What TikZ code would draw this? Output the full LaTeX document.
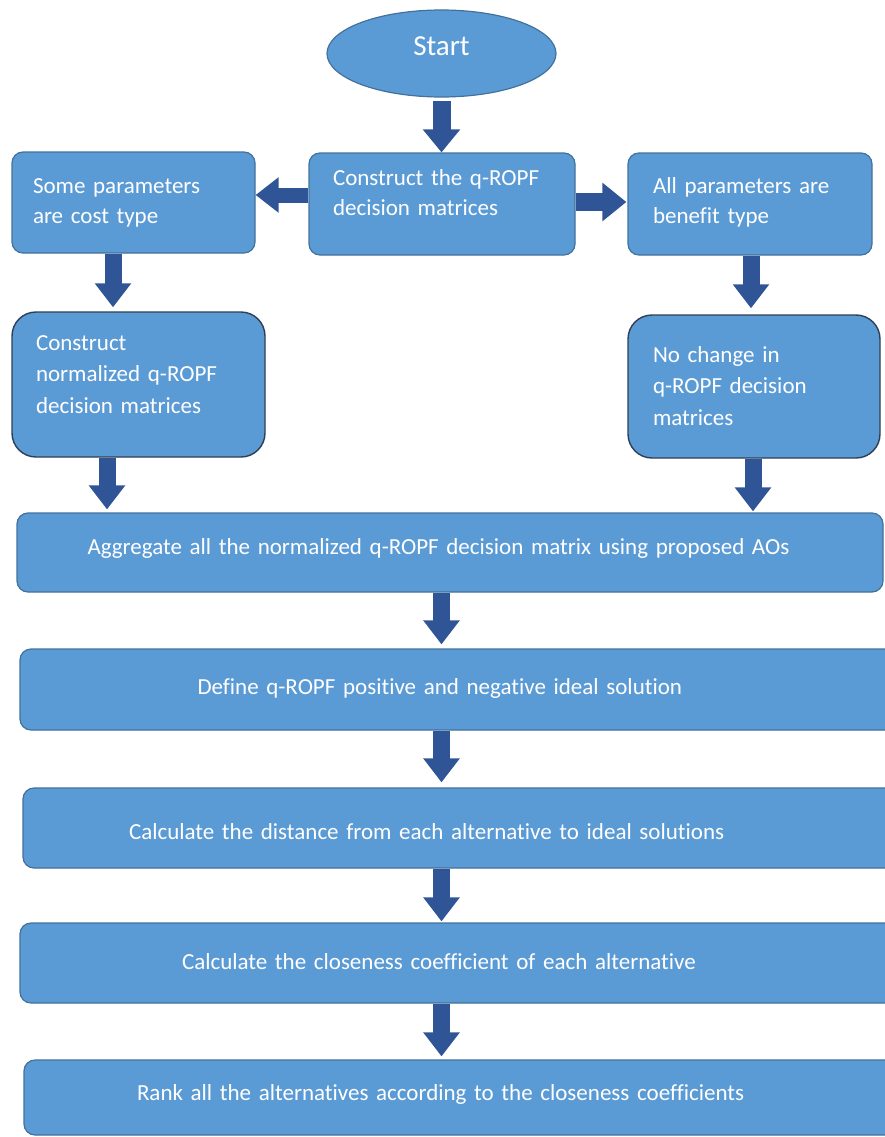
\documentclass[tikz,border=0pt]{standalone}
\usepackage{fontspec}
\setmainfont{Carlito}[Ligatures=CommonOff]
\usetikzlibrary{shapes.geometric,arrows.meta}
\definecolor{boxfill}{HTML}{5B9BD5}
\definecolor{boxedge}{HTML}{41719C}
\definecolor{darkedge}{HTML}{2E3F55}
\definecolor{arrowblue}{HTML}{2F5597}
\tikzset{
  box/.style={draw=boxedge, line width=1.2pt, fill=boxfill, rounded corners=11pt,
    text=white, font=\fontsize{23}{30}\selectfont, align=left, inner ysep=0pt},
  bigbox/.style={box, draw=darkedge, line width=1.4pt, rounded corners=24pt,
    font=\fontsize{23}{31.5}\selectfont},
  varrow/.style={draw=arrowblue, line width=17pt,
    -{Triangle[width=35pt,length=24pt]}, shorten >=3pt},
  harrow/.style={draw=arrowblue, line width=16pt,
    -{Triangle[width=35pt,length=24pt]}},
}
\begin{document}
\begin{tikzpicture}[x=1pt,y=-1pt]
\useasboundingbox (0,0) rectangle (885,1137);
\clip (0,0) rectangle (885,1137);

\node[ellipse, draw=boxedge, line width=1.2pt, fill=boxfill, text=white,
  minimum width=229pt, minimum height=87pt, inner sep=0pt,
  font=\fontsize{29}{34}\selectfont, text height=19pt, text depth=14pt]
  (start) at (441.5,53.5) {Start};

\node[box, minimum width=266pt, minimum height=102pt, inner xsep=24pt,
  text width=218pt, text height=17pt, text depth=55pt]
  (construct) at (442,204) {Construct the q-ROPF\\decision matrices};
\node[box, minimum width=243pt, minimum height=101pt, inner xsep=21pt,
  text width=201pt, text height=17pt, text depth=36pt]
  (cost) at (133.5,202.5) {Some parameters\\are cost type};
\node[box, minimum width=244pt, minimum height=102pt, inner xsep=25pt,
  text width=194pt, text height=17pt, text depth=39pt]
  (benefit) at (750,204) {All parameters are\\benefit type};

\node[bigbox, minimum width=253pt, minimum height=145pt, inner xsep=24pt,
  text width=205pt, text height=17pt, text depth=86pt]
  (norm) at (138.5,384.5) {Construct\\normalized q-ROPF\\decision matrices};
\node[bigbox, minimum width=252pt, minimum height=143pt, inner xsep=25pt,
  text width=202pt, text height=17pt, text depth=66pt]
  (nochange) at (754,386.5) {No change in\\q-ROPF decision\\matrices};

\node[box, minimum width=866pt, minimum height=79pt, inner xsep=70.5pt,
  text width=725pt, text height=8pt, text depth=5pt]
  (aggregate) at (450,552.5) {Aggregate all the normalized q-ROPF decision matrix using proposed AOs};
\node[box, minimum width=880pt, minimum height=81pt, inner xsep=177.5pt,
  text width=525pt, text height=14pt, text depth=5pt]
  (define) at (460,689.5) {Define q-ROPF positive and negative ideal solution};
\node[box, minimum width=877pt, minimum height=80pt, inner xsep=105.7pt,
  text width=665pt, text height=27pt, text depth=5pt]
  (distance) at (461.5,828) {Calculate the distance from each alternative to ideal solutions};
\node[box, minimum width=880pt, minimum height=80pt, inner xsep=162pt,
  text width=556pt, text height=17.6pt, text depth=5pt]
  (closeness) at (460,963) {Calculate the closeness coefficient of each alternative};
\node[box, minimum width=876pt, minimum height=75pt, inner xsep=113pt,
  text width=650pt, text height=11.4pt, text depth=5pt]
  (rank) at (462,1097.5) {Rank all the alternatives according to the closeness coefficients};

% connectors
\draw[varrow, line width=18pt, -{Triangle[width=36pt,length=23pt]}, shorten <=3pt, shorten >=0pt]
  (start.south) -- (start.south |- construct.north);
\draw[harrow, line width=15pt, -{Triangle[width=34pt,length=23pt]}]
  ([yshift=9pt]construct.west) -- ([yshift=9pt]construct.west -| cost.east);
\draw[harrow, line width=18pt, -{Triangle[width=37pt,length=24pt]}, shorten >=1pt]
  ([yshift=2pt]construct.east) -- ([yshift=2pt]construct.east -| benefit.west);
\draw[varrow, shorten >=4pt]
  ([xshift=-20.5pt]cost.south) -- ([xshift=-20.5pt]cost.south |- norm.north);
\draw[varrow, shorten >=6pt]
  ([xshift=1pt]benefit.south) -- ([xshift=1pt]benefit.south |- nochange.north);
\draw[varrow]
  ([xshift=-31.5pt]norm.south) -- ([xshift=-31.5pt]norm.south |- aggregate.north);
\draw[varrow, shorten >=1pt]
  ([xshift=-1pt]nochange.south) -- ([xshift=-1pt]nochange.south |- aggregate.north);
\draw[varrow, shorten >=4pt]
  (start.south |- aggregate.south) -- (start.south |- define.north);
\draw[varrow, shorten >=5pt]
  (start.south |- define.south) -- (start.south |- distance.north);
\draw[varrow, shorten >=1pt]
  (start.south |- distance.south) -- (start.south |- closeness.north);
\draw[varrow, shorten >=3pt]
  (start.south |- closeness.south) -- (start.south |- rank.north);
\end{tikzpicture}
\end{document}
